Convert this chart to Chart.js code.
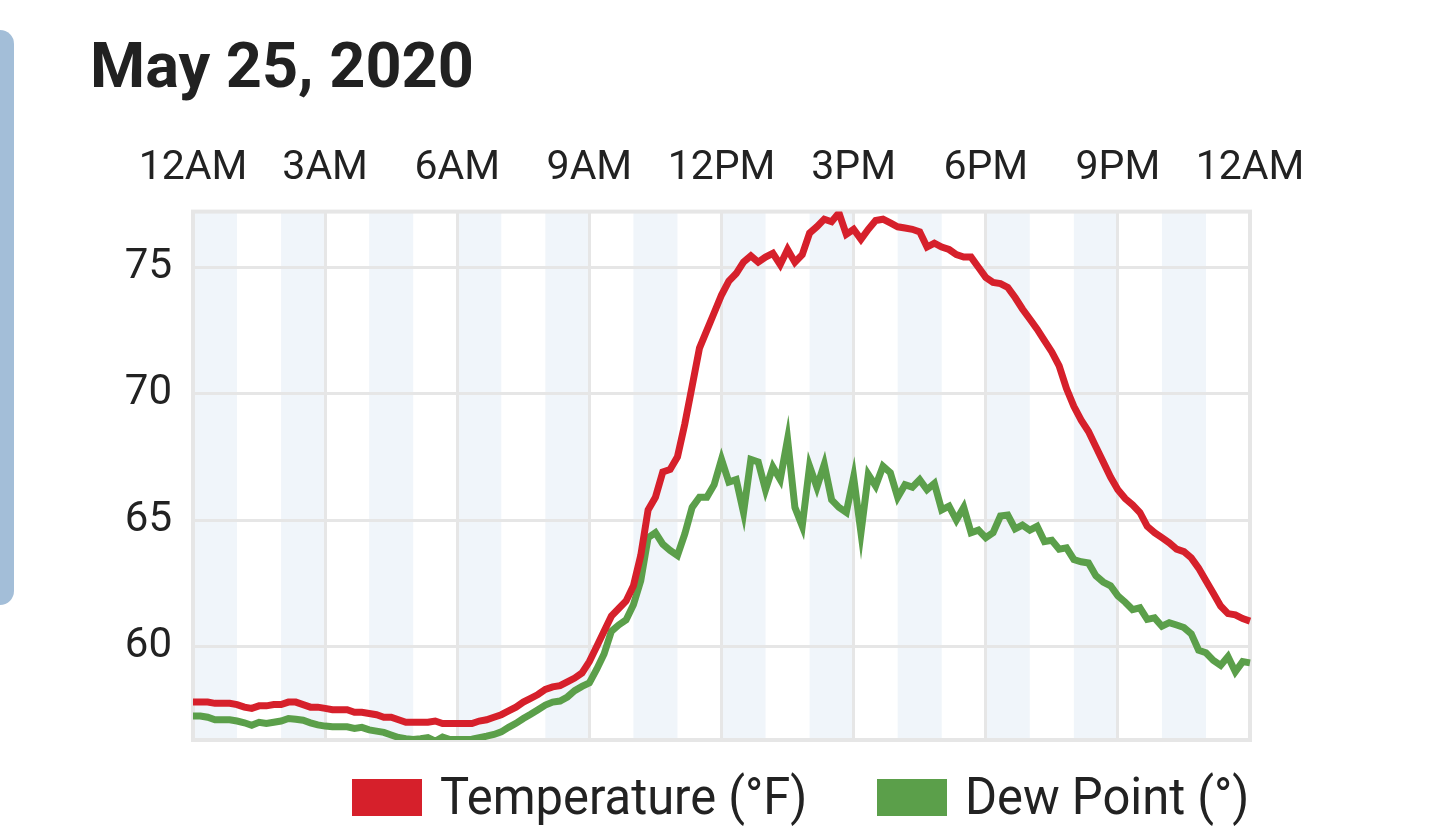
<!DOCTYPE html>
<html>
<head>
<meta charset="utf-8">
<title>May 25, 2020</title>
<script src="https://cdn.jsdelivr.net/npm/chart.js@4/dist/chart.umd.min.js"></script>
<style>
    html, body {
        margin: 0;
        padding: 0;
        background: #ffffff;
        overflow: hidden;
    }
    #wrap {
        position: relative;
        width: 1440px;
        height: 828px;
    }
    #sideTab {
        position: absolute;
        left: -20px;
        top: 30px;
        width: 34px;
        height: 575px;
        border-radius: 14px;
        background: #a3bed8;
    }
    #chartBox {
        position: absolute;
        left: 0;
        top: 0;
        width: 1440px;
        height: 828px;
    }
    #legend {
        position: absolute;
        left: 0;
        top: 772px;
        width: 1440px;
        height: 50px;
        font-family: Roboto, "Noto Sans", sans-serif;
        font-size: 52px;
        color: #222222;
    }
    .legend-item {
        position: absolute;
        top: 0;
        height: 50px;
        display: flex;
        align-items: center;
    }
    .legend-box {
        width: 70px;
        height: 37px;
        margin-right: 18px;
    }
    .legend-text {
        display: inline-block;
        white-space: nowrap;
        transform-origin: left center;
        line-height: 50px;
    }
</style>
</head>
<body>
<div id="wrap">
    <div id="sideTab"></div>
    <div id="chartBox"><canvas id="dayChart"></canvas></div>
    <div id="legend"></div>
</div>
<script>
// readings every 10 minutes
const times = [
    '0:00', '0:10', '0:20', '0:30', '0:40', '0:50',
    '1:00', '1:10', '1:20', '1:30', '1:40', '1:50',
    '2:00', '2:10', '2:20', '2:30', '2:40', '2:50',
    '3:00', '3:10', '3:20', '3:30', '3:40', '3:50',
    '4:00', '4:10', '4:20', '4:30', '4:40', '4:50',
    '5:00', '5:10', '5:20', '5:30', '5:40', '5:50',
    '6:00', '6:10', '6:20', '6:30', '6:40', '6:50',
    '7:00', '7:10', '7:20', '7:30', '7:40', '7:50',
    '8:00', '8:10', '8:20', '8:30', '8:40', '8:50',
    '9:00', '9:10', '9:20', '9:30', '9:40', '9:50',
    '10:00', '10:10', '10:20', '10:30', '10:40', '10:50',
    '11:00', '11:10', '11:20', '11:30', '11:40', '11:50',
    '12:00', '12:10', '12:20', '12:30', '12:40', '12:50',
    '13:00', '13:10', '13:20', '13:30', '13:40', '13:50',
    '14:00', '14:10', '14:20', '14:30', '14:40', '14:50',
    '15:00', '15:10', '15:20', '15:30', '15:40', '15:50',
    '16:00', '16:10', '16:20', '16:30', '16:40', '16:50',
    '17:00', '17:10', '17:20', '17:30', '17:40', '17:50',
    '18:00', '18:10', '18:20', '18:30', '18:40', '18:50',
    '19:00', '19:10', '19:20', '19:30', '19:40', '19:50',
    '20:00', '20:10', '20:20', '20:30', '20:40', '20:50',
    '21:00', '21:10', '21:20', '21:30', '21:40', '21:50',
    '22:00', '22:10', '22:20', '22:30', '22:40', '22:50',
    '23:00', '23:10', '23:20', '23:30', '23:40', '23:50',
    '24:00'
];

const temperature = [
    57.8, 57.8, 57.8, 57.75, 57.75, 57.75,
    57.7, 57.6, 57.55, 57.65, 57.65, 57.7,
    57.7, 57.8, 57.8, 57.7, 57.6, 57.6,
    57.55, 57.5, 57.5, 57.5, 57.4, 57.4,
    57.35, 57.3, 57.2, 57.2, 57.1, 57.0,
    57.0, 57.0, 57.0, 57.05, 56.95, 56.95,
    56.95, 56.95, 56.95, 57.05, 57.1, 57.2,
    57.3, 57.45, 57.6, 57.8, 57.95, 58.1,
    58.3, 58.4, 58.45, 58.6, 58.75, 58.95,
    59.4, 60.0, 60.6, 61.2, 61.5, 61.8,
    62.4, 63.6, 65.4, 65.9, 66.9, 67.0,
    67.5, 68.8, 70.3, 71.8, 72.5, 73.2,
    73.9, 74.45, 74.75, 75.2, 75.45, 75.2,
    75.4, 75.55, 75.1, 75.7, 75.2, 75.5,
    76.35, 76.6, 76.9, 76.8, 77.15, 76.3,
    76.5, 76.1, 76.5, 76.85, 76.9, 76.75,
    76.6, 76.55, 76.5, 76.4, 75.8, 75.95,
    75.8, 75.7, 75.5, 75.4, 75.4, 75.0,
    74.6, 74.4, 74.35, 74.2, 73.8, 73.35,
    72.95, 72.55, 72.1, 71.65, 71.1, 70.2,
    69.5, 68.95, 68.5, 67.9, 67.3, 66.7,
    66.2, 65.85, 65.6, 65.3, 64.75, 64.5,
    64.3, 64.1, 63.85, 63.75, 63.5, 63.1,
    62.6, 62.1, 61.6, 61.3, 61.25, 61.1,
    61.0
];

const dewPoint = [
    57.25, 57.25, 57.2, 57.1, 57.1, 57.1,
    57.05, 56.98, 56.88, 57.0, 56.95, 57.0,
    57.05, 57.15, 57.12, 57.08, 56.98, 56.9,
    56.85, 56.82, 56.82, 56.82, 56.76, 56.8,
    56.7, 56.65, 56.6, 56.5, 56.4, 56.35,
    56.32, 56.35, 56.39, 56.25, 56.42, 56.32,
    56.32, 56.32, 56.33, 56.39, 56.45, 56.52,
    56.62, 56.8, 56.96, 57.15, 57.32, 57.5,
    57.68, 57.8, 57.84, 58.0, 58.25, 58.42,
    58.56, 59.1, 59.7, 60.6, 60.85, 61.05,
    61.65, 62.6, 64.3, 64.5, 64.05, 63.8,
    63.6, 64.45, 65.5, 65.9, 65.9, 66.4,
    67.4, 66.5, 66.6, 65.3, 67.4, 67.3,
    66.2, 67.1, 66.6, 68.2, 65.5, 64.76,
    67.13, 66.3, 67.2, 65.8, 65.5, 65.3,
    66.7, 64.5, 66.8, 66.35, 67.13, 66.87,
    65.9, 66.4, 66.3, 66.6, 66.2, 66.45,
    65.4, 65.55, 65.0, 65.5, 64.5, 64.6,
    64.3, 64.5, 65.16, 65.2, 64.65, 64.8,
    64.6, 64.75, 64.15, 64.2, 63.85, 63.9,
    63.44, 63.35, 63.3, 62.8, 62.55, 62.4,
    62.0, 61.75, 61.46, 61.53, 61.07, 61.13,
    60.8, 60.94, 60.85, 60.75, 60.5, 59.85,
    59.75, 59.45, 59.25, 59.6, 59.0, 59.4,
    59.35
];

// axis labels every 3 hours, light bands on even hours
const xTickTimes = ['0:00', '3:00', '6:00', '9:00', '12:00', '15:00', '18:00', '21:00', '24:00'];
const xTickLabels = ['12AM', '3AM', '6AM', '9AM', '12PM', '3PM', '6PM', '9PM', '12AM'];
const yTickValues = [60, 65, 70, 75];
const shadedHours = ['0:00', '2:00', '4:00', '6:00', '8:00', '10:00', '12:00', '14:00', '16:00', '18:00', '20:00', '22:00'];

const seriesLabels = ['Temperature (°F)', 'Dew Point (°)'];
const seriesColors = ['#d6202b', '#5b9f4a'];

const FONT = 'Roboto, "Noto Sans", sans-serif';
const GRID = '#e6e6e6';
const BAND = '#f0f5fa';

/**
 * Hour bands behind the grid and a frame round the plot
 */
const hourBands = {
    id: 'hourBands',
    beforeDraw(chart) {
        const { ctx, chartArea } = chart;
        const x = chart.scales.x;
        ctx.save();
        ctx.fillStyle = BAND;
        shadedHours.forEach(h => {
            const i = times.indexOf(h);
            const x0 = x.getPixelForValue(i);
            const x1 = x.getPixelForValue(i + 6);
            ctx.fillRect(x0, chartArea.top, x1 - x0, chartArea.bottom - chartArea.top);
        });
        ctx.restore();
    },
    beforeDatasetsDraw(chart) {
        const { ctx, chartArea } = chart;
        ctx.save();
        ctx.strokeStyle = GRID;
        ctx.lineWidth = 4;
        ctx.strokeRect(chartArea.left, chartArea.top,
            chartArea.right - chartArea.left, chartArea.bottom - chartArea.top);
        ctx.restore();
    }
};

const WeatherChart = {
    chart: null,

    init() {
        const canvas = document.getElementById('dayChart');
        this.chart = new Chart(canvas, {
            type: 'line',
            data: {
                labels: times,
                datasets: [
                    {
                        label: seriesLabels[0],
                        data: temperature,
                        borderColor: seriesColors[0],
                        backgroundColor: seriesColors[0],
                        borderWidth: 7,
                        pointRadius: 0,
                        tension: 0
                    },
                    {
                        label: seriesLabels[1],
                        data: dewPoint,
                        borderColor: seriesColors[1],
                        backgroundColor: seriesColors[1],
                        borderWidth: 7,
                        pointRadius: 0,
                        tension: 0
                    }
                ]
            },
            options: this.getChartOptions(),
            plugins: [hourBands]
        });
        this.buildLegend();
    },

    getChartOptions() {
        return {
            responsive: true,
            maintainAspectRatio: false,
            animation: false,
            layout: {
                padding: { left: 90, right: 190, top: 0, bottom: 88 }
            },
            scales: {
                x: {
                    type: 'category',
                    position: 'top',
                    offset: false,
                    afterBuildTicks(scale) {
                        scale.ticks = xTickTimes.map(t => ({ value: times.indexOf(t) }));
                    },
                    afterFit(scale) {
                        scale.height = 103;
                    },
                    ticks: {
                        autoSkip: false,
                        maxRotation: 0,
                        padding: 18,
                        color: '#222222',
                        font: { family: FONT, size: 41 },
                        callback: (value) => xTickLabels[xTickTimes.indexOf(times[value])]
                    },
                    grid: {
                        color: GRID,
                        lineWidth: 3,
                        drawTicks: false
                    },
                    border: { display: false }
                },
                y: {
                    min: 56.3,
                    max: 77.2,
                    afterBuildTicks(scale) {
                        scale.ticks = yTickValues.map(v => ({ value: v }));
                    },
                    afterFit(scale) {
                        scale.width = 103;
                    },
                    ticks: {
                        padding: 21,
                        color: '#222222',
                        font: { family: FONT, size: 42 }
                    },
                    grid: {
                        color: GRID,
                        lineWidth: 3,
                        drawTicks: false
                    },
                    border: { display: false }
                }
            },
            plugins: {
                title: {
                    display: true,
                    text: 'May 25, 2020',
                    align: 'start',
                    color: '#212121',
                    font: { family: FONT, size: 63, weight: 'bold', lineHeight: 1.2 },
                    padding: { top: 33, bottom: 0 }
                },
                legend: { display: false },
                tooltip: { enabled: false }
            }
        };
    },

    /**
     * Legend drawn as html, text narrowed like the original
     */
    buildLegend() {
        const box = document.getElementById('legend');
        const lefts = [352, 877];
        this.chart.data.datasets.forEach((ds, i) => {
            const item = document.createElement('div');
            item.className = 'legend-item';
            item.style.left = lefts[i] + 'px';
            const swatch = document.createElement('span');
            swatch.className = 'legend-box';
            swatch.style.background = ds.borderColor;
            const text = document.createElement('span');
            text.className = 'legend-text';
            text.textContent = ds.label;
            text.style.transform = 'scaleX(0.94)';
            item.appendChild(swatch);
            item.appendChild(text);
            box.appendChild(item);
        });
    }
};

WeatherChart.init();
</script>
</body>
</html>
